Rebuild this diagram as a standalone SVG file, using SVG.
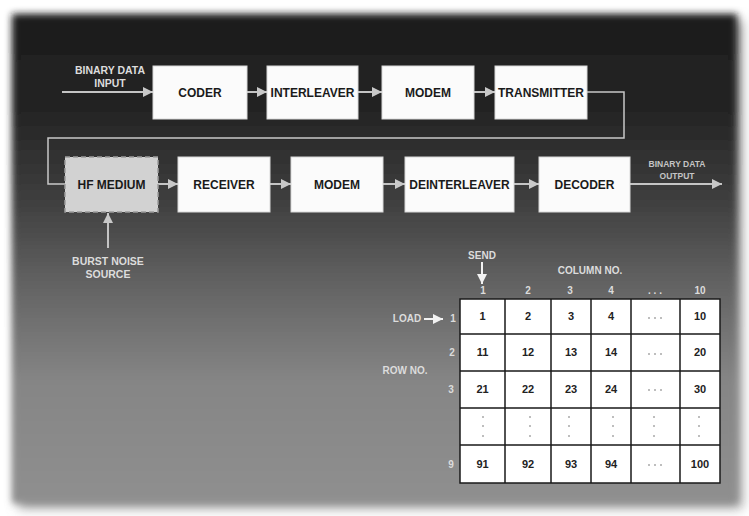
<svg xmlns="http://www.w3.org/2000/svg" width="749" height="516" viewBox="0 0 749 516">
<defs>
<linearGradient id="bg" x1="0" y1="14" x2="0" y2="503" gradientUnits="userSpaceOnUse">
<stop offset="0" stop-color="#1c1c1c"/>
<stop offset="0.2" stop-color="#242424"/>
<stop offset="0.38" stop-color="#3e3e3e"/>
<stop offset="0.55" stop-color="#626262"/>
<stop offset="0.75" stop-color="#858585"/>
<stop offset="1" stop-color="#8f8f8f"/>
</linearGradient>
<filter id="blur" x="-5%" y="-5%" width="110%" height="110%"><feGaussianBlur stdDeviation="3.5"/></filter>
<filter id="sh" x="-5%" y="-5%" width="110%" height="110%"><feGaussianBlur stdDeviation="6"/></filter>
<marker id="ah" viewBox="0 0 10 10" refX="10" refY="5" markerWidth="10" markerHeight="11" markerUnits="userSpaceOnUse" orient="auto">
<path d="M0,0 L10,5 L0,10 Z" fill="#c8c8c8"/>
</marker>
<marker id="ahw" viewBox="0 0 10 10" refX="10" refY="5" markerWidth="10" markerHeight="10" markerUnits="userSpaceOnUse" orient="auto">
<path d="M0,0 L10,5 L0,10 Z" fill="#f2f2f2"/>
</marker>
</defs>
<style>
.box{fill:#fbfbfb;stroke:#d8d8d8;stroke-width:1}
.bt{font-family:"Liberation Sans",Arial,sans-serif;font-weight:bold;font-size:12px;fill:#1a1a1a;text-anchor:middle}
.lbl{font-family:"Liberation Sans",Arial,sans-serif;font-weight:bold;font-size:10.5px;fill:#dcdcdc;text-anchor:middle}
.num{font-family:"Liberation Sans",Arial,sans-serif;font-weight:bold;font-size:10px;fill:#dcdcdc;text-anchor:middle}
.lbs{font-family:"Liberation Sans",Arial,sans-serif;font-weight:bold;font-size:8.5px;fill:#c4c4c4;text-anchor:middle}
.ct{font-family:"Liberation Sans",Arial,sans-serif;font-weight:bold;font-size:11px;fill:#222;text-anchor:middle}
.dot{fill:#a8a8a8}
.con{fill:none;stroke:#c4c4c4;stroke-width:2}
.loop{fill:none;stroke:#c8c8c8;stroke-width:1.5}
.grid{fill:none;stroke:#1a1a1a;stroke-width:1.5}
</style>
<rect x="0" y="0" width="749" height="516" fill="#ffffff"/>
<rect x="18" y="20" width="724" height="488" fill="#9a9a9a" filter="url(#sh)"/>
<rect x="12" y="14" width="725" height="489" fill="url(#bg)" filter="url(#blur)"/>

<g id="connectors">
<line class="con" x1="62" y1="92" x2="153" y2="92" marker-end="url(#ah)"/>
<line class="con" x1="247" y1="92" x2="267" y2="92" marker-end="url(#ah)"/>
<line class="con" x1="358" y1="92" x2="382" y2="92" marker-end="url(#ah)"/>
<line class="con" x1="474" y1="92" x2="495" y2="92" marker-end="url(#ah)"/>
<polyline class="loop" points="587,92 624,92 624,138 48,138 48,184 65,184"/>
<line class="con" x1="158" y1="184" x2="178" y2="184" marker-end="url(#ah)"/>
<line class="con" x1="270" y1="184" x2="291" y2="184" marker-end="url(#ah)"/>
<line class="con" x1="383" y1="184" x2="405" y2="184" marker-end="url(#ah)"/>
<line class="con" x1="514" y1="184" x2="539" y2="184" marker-end="url(#ah)"/>
<line class="con" x1="630" y1="184" x2="722" y2="184" marker-end="url(#ah)"/>
<line class="con" x1="108" y1="248" x2="108" y2="213" marker-end="url(#ah)"/>
<line x1="482" y1="262" x2="482" y2="284" stroke="#f2f2f2" stroke-width="2" marker-end="url(#ahw)"/>
<line x1="424" y1="319" x2="443" y2="319" stroke="#f2f2f2" stroke-width="2" marker-end="url(#ahw)"/>
</g>

<g id="binary-input"><text class="lbl" x="110" y="74">BINARY DATA</text><text class="lbl" x="110" y="87">INPUT</text></g>
<g id="coder"><rect class="box" x="153" y="66" width="94" height="53"/><text class="bt" x="200" y="97">CODER</text></g>
<g id="interleaver"><rect class="box" x="267" y="66" width="91" height="53"/><text class="bt" x="312.5" y="97">INTERLEAVER</text></g>
<g id="modem1"><rect class="box" x="382" y="66" width="92" height="53"/><text class="bt" x="428" y="97">MODEM</text></g>
<g id="transmitter"><rect class="box" x="495" y="66" width="92" height="53"/><text class="bt" x="541" y="97">TRANSMITTER</text></g>

<g id="hf-medium"><rect x="65" y="157" width="93" height="55" fill="#d2d2d2" stroke="#9c9c9c" stroke-width="1.5" stroke-dasharray="5,3"/><text class="bt" x="111.5" y="189">HF MEDIUM</text></g>
<g id="receiver"><rect class="box" x="178" y="157" width="92" height="55"/><text class="bt" x="224" y="189">RECEIVER</text></g>
<g id="modem2"><rect class="box" x="291" y="157" width="92" height="55"/><text class="bt" x="337" y="189">MODEM</text></g>
<g id="deinterleaver"><rect class="box" x="405" y="157" width="109" height="55"/><text class="bt" x="459.5" y="189">DEINTERLEAVER</text></g>
<g id="decoder"><rect class="box" x="539" y="157" width="91" height="55"/><text class="bt" x="584.5" y="189">DECODER</text></g>
<g id="binary-output"><text class="lbs" x="677" y="167">BINARY DATA</text><text class="lbs" x="677" y="179">OUTPUT</text></g>
<g id="burst-noise"><text class="lbl" x="108" y="265">BURST NOISE</text><text class="lbl" x="108" y="278">SOURCE</text></g>

<g id="table">
<text class="num" x="482" y="259">SEND</text>
<text class="num" x="590" y="274">COLUMN NO.</text>
<text class="num" x="483" y="294">1</text>
<text class="num" x="528" y="294">2</text>
<text class="num" x="570" y="294">3</text>
<text class="num" x="611" y="294">4</text>
<text class="num" x="655" y="294" fill="#aaa">. . .</text>
<text class="num" x="700" y="294">10</text>
<text class="num" x="407" y="322">LOAD</text>
<text class="num" x="453" y="322">1</text>
<text class="num" x="452" y="356">2</text>
<text class="num" x="405" y="374">ROW NO.</text>
<text class="num" x="451" y="393">3</text>
<text class="num" x="451" y="468">9</text>
<rect x="460" y="299" width="260" height="184" fill="#ffffff"/>
<path class="grid" d="M460,299 H720 V483 H460 Z M505,299 V483 M551,299 V483 M591,299 V483 M631,299 V483 M680,299 V483 M460,334 H720 M460,371 H720 M460,408 H720 M460,445 H720"/>
<text class="ct" x="482.5" y="320">1</text><text class="ct" x="528" y="320">2</text><text class="ct" x="571" y="320">3</text><text class="ct" x="611" y="320">4</text><text class="ct" x="700" y="320">10</text>
<text class="ct" x="482.5" y="356">11</text><text class="ct" x="528" y="356">12</text><text class="ct" x="571" y="356">13</text><text class="ct" x="611" y="356">14</text><text class="ct" x="700" y="356">20</text>
<text class="ct" x="482.5" y="393">21</text><text class="ct" x="528" y="393">22</text><text class="ct" x="571" y="393">23</text><text class="ct" x="611" y="393">24</text><text class="ct" x="700" y="393">30</text>
<text class="ct" x="482.5" y="468">91</text><text class="ct" x="528" y="468">92</text><text class="ct" x="571" y="468">93</text><text class="ct" x="611" y="468">94</text><text class="ct" x="700" y="468">100</text>
<g class="dot">
<circle cx="649" cy="318" r="1"/><circle cx="655" cy="318" r="1"/><circle cx="661" cy="318" r="1"/>
<circle cx="649" cy="354" r="1"/><circle cx="655" cy="354" r="1"/><circle cx="661" cy="354" r="1"/>
<circle cx="649" cy="390" r="1"/><circle cx="655" cy="390" r="1"/><circle cx="661" cy="390" r="1"/>
<circle cx="649" cy="465" r="1"/><circle cx="655" cy="465" r="1"/><circle cx="661" cy="465" r="1"/>
<circle cx="483" cy="417" r="1"/><circle cx="483" cy="426" r="1"/><circle cx="483" cy="436" r="1"/>
<circle cx="530" cy="417" r="1"/><circle cx="530" cy="426" r="1"/><circle cx="530" cy="436" r="1"/>
<circle cx="569" cy="417" r="1"/><circle cx="569" cy="426" r="1"/><circle cx="569" cy="436" r="1"/>
<circle cx="613" cy="417" r="1"/><circle cx="613" cy="426" r="1"/><circle cx="613" cy="436" r="1"/>
<circle cx="654" cy="417" r="1"/><circle cx="654" cy="426" r="1"/><circle cx="654" cy="436" r="1"/>
<circle cx="699" cy="417" r="1"/><circle cx="699" cy="426" r="1"/><circle cx="699" cy="436" r="1"/>
</g>
</g>
</svg>
